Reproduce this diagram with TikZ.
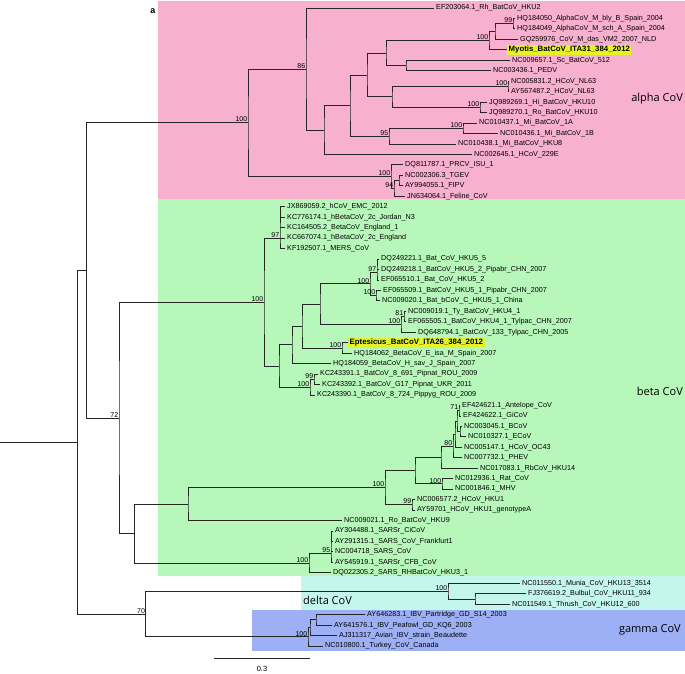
\documentclass[tikz,border=0pt]{standalone}
\usepackage{fontspec}
\setmainfont{Liberation Sans}
\newfontfamily\grpfont{Open Sans}
\usetikzlibrary{calc}
\definecolor{pinkbg}{RGB}{247,176,205}
\definecolor{greenbg}{RGB}{183,247,185}
\definecolor{cyanbg}{RGB}{196,246,238}
\definecolor{bluebg}{RGB}{157,176,246}
\definecolor{hl}{RGB}{228,244,40}
\tikzset{
 br/.style={line width=0.9pt, draw=black!85},
 lab/.style={anchor=west, inner sep=0pt, xshift=2pt, font=\fontsize{7.2}{8}\selectfont},
 hlab/.style={anchor=west, inner xsep=1.5pt, inner ysep=1.5pt, fill=hl, font=\fontsize{7.8}{8}\selectfont\bfseries},
 sup/.style={anchor=south east, inner sep=0.6pt, font=\fontsize{7}{7}\selectfont},
 grp/.style={font=\grpfont\fontsize{11}{13}\selectfont, inner sep=0pt},
}
\newcommand\leaf[3]{\coordinate (t#1) at (#2,{8+(#1-1)*10.46}); \node[lab] (L#1) at (t#1) {#3};}
\newcommand\hleaf[3]{\coordinate (t#1) at (#2,{8+(#1-1)*10.46}); \node[hlab] (L#1) at (t#1) {#3};}
\newcommand\inode[4]{\path ($(#3)!0.5!(#4)$) coordinate (#1m); \coordinate (#1) at (#1m -| #2,0); \draw[br] (#3) -| (#1) |- (#4);}
\newcommand\extra[2]{\draw[br] (#1 |- #2) -- (#2);}
\newcommand\sval[2]{\node[sup] (s#1) at (#1) {#2};}
\begin{document}
\begin{tikzpicture}[x=1pt,y=-1pt]
\path[use as bounding box] (0,0) rectangle (685,673);
% backgrounds
\fill[pinkbg] (158,1) rectangle (685,198.5);
\fill[greenbg] (158,198.5) rectangle (685,576);
\fill[cyanbg] (301,576) rectangle (685,609.5);
\fill[bluebg] (252,609.5) rectangle (685,651);
% leaves
\leaf{1}{434}{EF203064.1\_Rh\_BatCoV\_HKU2}
\leaf{2}{515}{HQ184050\_AlphaCoV\_M\_bly\_B\_Spain\_2004}
\leaf{3}{515}{HQ184049\_AlphaCoV\_M\_sch\_A\_Spain\_2004}
\leaf{4}{518}{GQ259976\_CoV\_M\_das\_VM2\_2007\_NLD}
\hleaf{5}{507}{Myotis\_BatCoV\_ITA31\_384\_2012}
\leaf{6}{510}{NC009657.1\_Sc\_BatCoV\_512}
\leaf{7}{491}{NC003436.1\_PEDV}
\leaf{8}{509}{NC005831.2\_HCoV\_NL63}
\leaf{9}{509}{AY567487.2\_HCoV\_NL63}
\leaf{10}{487}{JQ989269.1\_Hi\_BatCoV\_HKU10}
\leaf{11}{487}{JQ989270.1\_Ro\_BatCoV\_HKU10}
\leaf{12}{477}{NC010437.1\_Mi\_BatCoV\_1A}
\leaf{13}{498}{NC010436.1\_Mi\_BatCoV\_1B}
\leaf{14}{456}{NC010438.1\_Mi\_BatCoV\_HKU8}
\leaf{15}{472}{NC002645.1\_HCoV\_229E}
\leaf{16}{403}{DQ811787.1\_PRCV\_ISU\_1}
\leaf{17}{403}{NC002306.3\_TGEV}
\leaf{18}{403}{AY994055.1\_FIPV}
\leaf{19}{405}{JN634064.1\_Feline\_CoV}
\leaf{20}{285}{JX869059.2\_hCoV\_EMC\_2012}
\leaf{21}{285}{KC776174.1\_hBetaCoV\_2c\_Jordan\_N3}
\leaf{22}{285}{KC164505.2\_BetaCoV\_England\_1}
\leaf{23}{285}{KC667074.1\_hBetaCoV\_2c\_England}
\leaf{24}{285}{KF192507.1\_MERS\_CoV}
\leaf{25}{379}{DQ249221.1\_Bat\_CoV\_HKU5\_5}
\leaf{26}{379}{DQ249218.1\_BatCoV\_HKU5\_2\_Pipabr\_CHN\_2007}
\leaf{27}{379}{EF065510.1\_Bat\_CoV\_HKU5\_2}
\leaf{28}{381}{EF065509.1\_BatCoV\_HKU5\_1\_Pipabr\_CHN\_2007}
\leaf{29}{380}{NC009020.1\_Bat\_bCoV\_C\_HKU5\_1\_China}
\leaf{30}{406}{NC009019.1\_Ty\_BatCoV\_HKU4\_1}
\leaf{31}{406}{EF065505.1\_BatCoV\_HKU4\_1\_Tylpac\_CHN\_2007}
\leaf{32}{416}{DQ648794.1\_BatCoV\_133\_Tylpac\_CHN\_2005}
\hleaf{33}{348}{Eptesicus\_BatCoV\_ITA26\_384\_2012}
\leaf{34}{352}{HQ184062\_BetaCoV\_E\_isa\_M\_Spain\_2007}
\leaf{35}{331}{HQ184059\_BetaCoV\_H\_sav\_J\_Spain\_2007}
\leaf{36}{318}{KC243391.1\_BatCoV\_8\_691\_Pipnat\_ROU\_2009}
\leaf{37}{320}{KC243392.1\_BatCoV\_G17\_Pipnat\_UKR\_2011}
\leaf{38}{315}{KC243390.1\_BatCoV\_8\_724\_Pippyg\_ROU\_2009}
\leaf{39}{460}{EF424621.1\_Antelope\_CoV}
\leaf{40}{461}{EF424622.1\_GiCoV}
\leaf{41}{462}{NC003045.1\_BCoV}
\leaf{42}{466}{NC010327.1\_ECoV}
\leaf{43}{462}{NC005147.1\_HCoV\_OC43}
\leaf{44}{462}{NC007732.1\_PHEV}
\leaf{45}{478}{NC017083.1\_RbCoV\_HKU14}
\leaf{46}{453}{NC012936.1\_Rat\_CoV}
\leaf{47}{453}{NC001846.1\_MHV}
\leaf{48}{415}{NC006577.2\_HCoV\_HKU1}
\leaf{49}{415}{AY59701\_HCoV\_HKU1\_genotypeA}
\leaf{50}{342}{NC009021.1\_Ro\_BatCoV\_HKU9}
\leaf{51}{333}{AY304488.1\_SARSr\_CiCoV}
\leaf{52}{333}{AY291315.1\_SARS\_CoV\_Frankfurt1}
\leaf{53}{333}{NC004718\_SARS\_CoV}
\leaf{54}{333}{AY545919.1\_SARSr\_CFB\_CoV}
\leaf{55}{331}{DQ022305.2\_SARS\_RHBatCoV\_HKU3\_1}
\leaf{56}{520}{NC011550.1\_Munia\_CoV\_HKU13\_3514}
\leaf{57}{526}{FJ376619.2\_Bulbul\_CoV\_HKU11\_934}
\leaf{58}{510}{NC011549.1\_Thrush\_CoV\_HKU12\_600}
\leaf{59}{365}{AY646283.1\_IBV\_Partridge\_GD\_S14\_2003}
\leaf{60}{332}{AY641576.1\_IBV\_Peafowl\_GD\_KQ6\_2003}
\leaf{61}{337}{AJ311317\_Avian\_IBV\_strain\_Beaudette}
\leaf{62}{323}{NC010800.1\_Turkey\_CoV\_Canada}
% alpha
\inode{A513}{513}{t2}{t3}
\inode{A495}{495}{A513}{t4}
\inode{A489}{489}{A495}{t5}
\inode{A406}{406}{t6}{t7}
\inode{A386}{386}{A489}{A406}
\inode{ANL}{508}{t8}{t9}
\inode{AHK}{480}{t10}{t11}
\inode{A392}{392}{ANL}{AHK}
\inode{A367}{367}{A386}{A392}
\inode{A1A}{463}{t12}{t13}
\inode{A389}{389}{A1A}{t14}
\inode{A350}{350}{A367}{A389}
\inode{A324}{324}{A350}{t15}
\inode{A86}{306}{t1}{A324}
\inode{A399}{399}{t17}{t18}
\inode{A394}{394}{A399}{t19}
\inode{APR}{391}{t16}{A394}
\inode{A0}{248}{A86}{APR}
% beta lineage c
\coordinate (B97) at (280,238.7);
\draw[br] (t20) -| (B97) |- (t24);
\extra{B97}{t21}\extra{B97}{t22}\extra{B97}{t23}
\coordinate (B5a) at (377,272.1);
\draw[br] (t25) -| (B5a) |- (t27);
\extra{B5a}{t26}
\inode{B5b}{376}{t28}{t29}
\inode{BH5}{370}{B5a}{B5b}
\inode{BH4a}{404}{t30}{t31}
\inode{BH4}{401}{BH4a}{t32}
\inode{BH45}{320}{BH5}{BH4}
\inode{BEpt}{342}{t33}{t34}
\inode{B302}{302}{BH45}{BEpt}
\inode{B292}{292}{B302}{t35}
\inode{KC314}{314}{t36}{t37}
\inode{KC310}{310}{KC314}{t38}
\inode{Bx}{279}{B292}{KC310}
\inode{Bc}{264}{B97}{Bx}
% beta lineage a + d
\inode{Bant}{459}{t39}{t40}
\inode{Bbe}{460}{t41}{t42}
\inode{Bb}{457}{Bant}{Bbe}
\inode{Bx2}{455}{Bb}{t43}
\inode{B80}{453}{Bx2}{t44}
\inode{BOC}{441}{B80}{t45}
\inode{BRat}{442}{t46}{t47}
\inode{BEmb}{415}{BOC}{BRat}
\inode{BHKU1}{412}{t48}{t49}
\inode{BA100}{385}{BEmb}{BHKU1}
\inode{BA}{188}{BA100}{t50}
% sars
\coordinate (BS95) at (331,553.2);
\draw[br] (t51) -| (BS95) |- (t54);
\extra{BS95}{t52}\extra{BS95}{t53}
\inode{BS}{309}{BS95}{t55}
% delta gamma
\inode{D2}{475}{t57}{t58}
\inode{D}{448}{t56}{D2}
\inode{G1}{316}{t59}{t60}
\inode{G2}{310}{G1}{t61}
\inode{G}{308}{G2}{t62}
\inode{N70}{145.7}{D}{G}
% backbone
\inode{X135}{134.7}{BA}{BS}
\inode{N72}{119}{Bc}{X135}
\inode{X87}{86.7}{A0}{N72}
\inode{R}{77.3}{X87}{N70}
\coordinate (R0) at (R -| 0,0);
\draw[br] (R0) -- (R);
% support values
\sval{A0}{100}\sval{A86}{86}\sval{A489}{100}\sval{A513}{99}
\sval{ANL}{100}\sval{AHK}{100}\sval{A389}{95}\sval{A1A}{100}
\sval{APR}{100}\sval{A394}{94}
\sval{B97}{97}\sval{Bc}{100}\sval{BH5}{100}\sval{B5a}{97}\sval{B5b}{100}
\sval{BH4}{100}\sval{BH4a}{81}\sval{BEpt}{100}\sval{KC310}{100}\sval{KC314}{99}
\sval{Bant}{71}\sval{B80}{80}\sval{BRat}{100}\sval{BHKU1}{99}\sval{BA100}{100}
\sval{BS}{100}\sval{BS95}{95}\sval{D}{100}\sval{G}{100}\sval{N70}{70}\sval{N72}{72}
% group labels
\node[grp,anchor=east] (galpha) at (683,99) {alpha CoV};
\node[grp,anchor=east] (gbeta) at (683,391) {beta CoV};
\node[grp,anchor=west] (gdelta) at (303,600) {delta CoV};
\node[grp,anchor=east] (ggamma) at (681,630) {gamma CoV};
\node[font=\fontsize{9}{10}\selectfont\bfseries, inner sep=0pt] (panel) at (153,11) {a};
% scale bar
\coordinate (sb1) at (214,658);
\coordinate (sb2) at (310,658);
\draw[br] (sb1) -- (sb2);
\node[font=\fontsize{7.5}{8}\selectfont, inner sep=0pt] (sbl) at (262,669) {0.3};
\end{tikzpicture}
\end{document}
